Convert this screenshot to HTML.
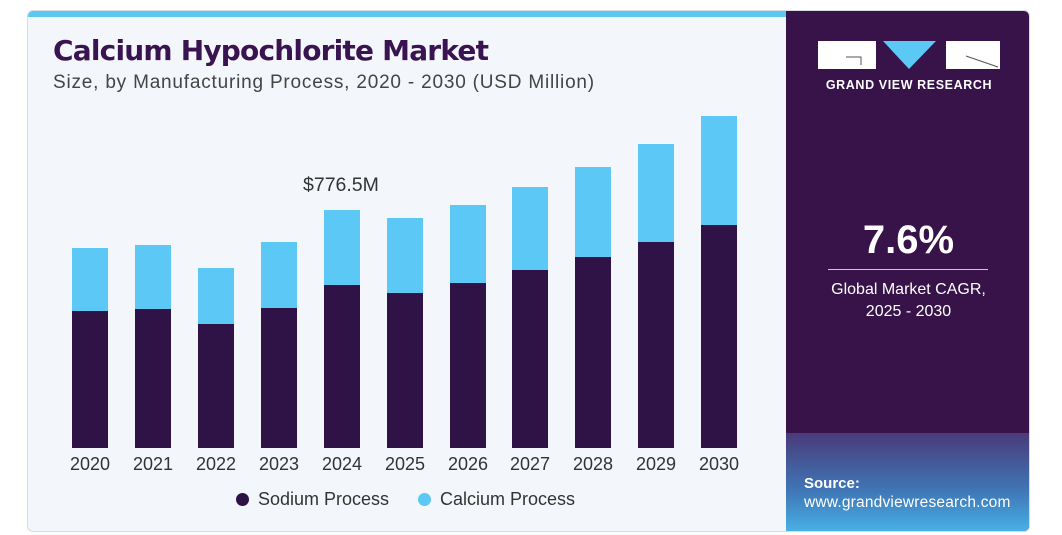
<!DOCTYPE html>
<html><head><style>
body{margin:0;width:1062px;height:535px;background:#fff;position:relative;overflow:hidden;font-family:"Liberation Sans",sans-serif}
.card{position:absolute;left:27px;top:10px;width:1003px;height:522px;background:#f3f7fb;border-radius:6px;border:1px solid #d8dde3;box-sizing:border-box;overflow:hidden}
.strip{position:absolute;left:0;top:0;width:758px;height:6px;background:#5bc8f0}
.right{position:absolute;left:758px;top:0;width:245px;height:522px;background:#371349}
.grad{position:absolute;left:0;bottom:0;width:245px;height:100px;background:linear-gradient(#4a3a7a,#3f79b8 60%,#49b3e8)}
.bar{position:absolute;width:36px}
.d{background:#2f1246}.l{background:#5bc8f5}
.yr{position:absolute;top:454px;font-size:18px;color:#333;width:60px;text-align:center}
</style></head><body>
<div class="card">
<div class="strip"></div>
<div style="position:absolute;left:25px;top:23px;font-size:28px;font-weight:900;color:#3a1450;font-family:'DejaVu Sans',sans-serif;letter-spacing:-0.8px">Calcium Hypochlorite Market</div>
<div style="position:absolute;left:25px;top:61px;font-size:19px;color:#444;letter-spacing:0.8px">Size, by Manufacturing Process, 2020 - 2030 (USD Million)</div>
<div class="right">
<div class="grad"></div>
<svg style="position:absolute;left:0;top:0" width="245" height="100">
<rect x="32" y="30" width="58" height="28" fill="#fff"/><path d="M60 46H75V54" stroke="#555" fill="none" stroke-width="1"/>
<polygon points="97,30 150,30 123,58" fill="#5bc8f5"/>
<rect x="160" y="30" width="54" height="28" fill="#fff"/><path d="M180 45L212 56" stroke="#555" stroke-width="1"/>
<text x="123" y="78" fill="#fff" font-size="12.5" font-weight="bold" text-anchor="middle" font-family="Liberation Sans" letter-spacing="0.6">GRAND VIEW RESEARCH</text>
</svg>
<div style="position:absolute;left:0;width:245px;top:207px;text-align:center;color:#fff;font-size:40px;font-weight:bold">7.6%</div>
<div style="position:absolute;left:42px;width:160px;top:258px;height:1px;background:#ccc"></div>
<div style="position:absolute;left:0;width:245px;top:268px;text-align:center;color:#fff;font-size:16px;line-height:22px">Global Market CAGR,<br>2025 - 2030</div>
<div style="position:absolute;left:18px;top:464px;color:#fff;font-size:15px;font-weight:bold">Source:</div>
<div style="position:absolute;left:18px;top:483px;color:#fff;font-size:15.5px;letter-spacing:0.2px">www.grandviewresearch.com</div>
</div>
</div>
<div id="bars"></div>
<div style="position:absolute;left:303px;top:174px;font-size:19.5px;color:#333">$776.5M</div>
<div style="position:absolute;left:236px;top:493px;width:13px;height:13px;border-radius:50%;background:#2f1246"></div>
<div style="position:absolute;left:258px;top:489px;font-size:18px;color:#333">Sodium Process</div>
<div style="position:absolute;left:418px;top:493px;width:13px;height:13px;border-radius:50%;background:#5bc8f5"></div>
<div style="position:absolute;left:440px;top:489px;font-size:18px;color:#333">Calcium Process</div>
<script>
var c=[90,153,216,279,342,405,468,530,593,656,719],
t=[248,245,268,242,210,218,205,187,167,144,116],
d=[311,309,324,308,285,293,283,270,257,242,225],h='';
for(var i=0;i<11;i++){h+='<div class="bar l" style="left:'+(c[i]-18)+'px;top:'+t[i]+'px;height:'+(d[i]-t[i])+'px"></div>';
h+='<div class="bar d" style="left:'+(c[i]-18)+'px;top:'+d[i]+'px;height:'+(448-d[i])+'px"></div>';
h+='<div class="yr" style="left:'+(c[i]-30)+'px">'+(2020+i)+'</div>';}
document.getElementById('bars').innerHTML=h;
</script>
</body></html>
